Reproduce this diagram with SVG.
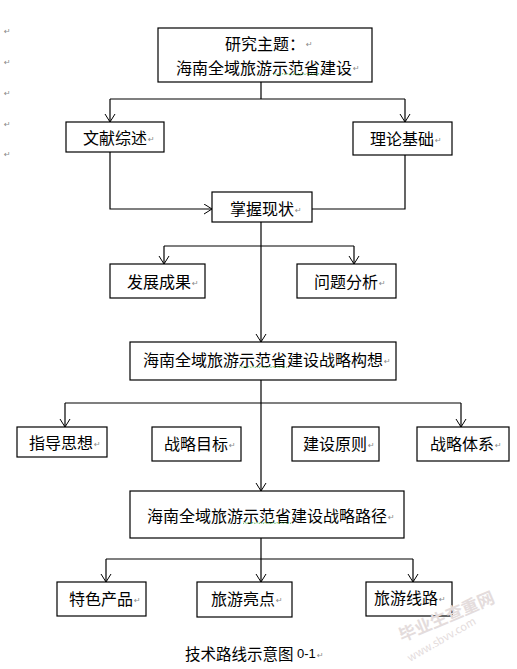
<svg xmlns="http://www.w3.org/2000/svg" width="517" height="669" viewBox="0 0 517 669">
<defs>
<marker id="arr" markerUnits="userSpaceOnUse" markerWidth="10" markerHeight="12" refX="8.5" refY="5.5" orient="auto">
<path d="M0.5,0.5 L8.5,5.5 L0.5,10.5" fill="none" stroke="#000" stroke-width="1"/>
</marker>
<style>
.box{fill:#fff;stroke:#000;stroke-width:1.2}
.t{font-family:"Noto Sans CJK SC","Noto Sans CJK JP",sans-serif;font-size:16px;fill:#000;dominant-baseline:central}
.pm{font-family:"DejaVu Sans",sans-serif;font-size:8px;fill:#888;dominant-baseline:central}
.ln{fill:none;stroke:#000;stroke-width:1.2}
.wv{fill:none;stroke:#3a3;stroke-width:0.8;stroke-dasharray:1.5 1}
.wm{font-family:"Noto Sans CJK SC",sans-serif;fill:#e4dcdc}
</style>
</defs>
<rect width="517" height="669" fill="#fff"/>
<g id="margin-marks">
<text class="pm" x="4" y="31">↵</text>
<text class="pm" x="4" y="62">↵</text>
<text class="pm" x="4" y="93">↵</text>
<text class="pm" x="4" y="124">↵</text>
<text class="pm" x="4" y="154">↵</text>
</g>
<g id="connectors">
<path class="ln" d="M261,82 V99 M110,99 H405"/>
<path class="ln" d="M110,99 V122" marker-end="url(#arr)"/>
<path class="ln" d="M405,99 V122" marker-end="url(#arr)"/>
<path class="ln" d="M110,152 V209 H212" marker-end="url(#arr)"/>
<path class="ln" d="M405,155 V209 H312"/>
<path class="ln" d="M261,222 V342" marker-end="url(#arr)"/>
<path class="ln" d="M164,246 H354"/>
<path class="ln" d="M164,246 V264" marker-end="url(#arr)"/>
<path class="ln" d="M354,246 V264" marker-end="url(#arr)"/>
<path class="ln" d="M261,380 V491" marker-end="url(#arr)"/>
<path class="ln" d="M65,403 H461"/>
<path class="ln" d="M65,403 V427" marker-end="url(#arr)"/>
<path class="ln" d="M461,403 V427" marker-end="url(#arr)"/>
<path class="ln" d="M261,538 V582" marker-end="url(#arr)"/>
<path class="ln" d="M106,559 H413"/>
<path class="ln" d="M106,559 V582" marker-end="url(#arr)"/>
<path class="ln" d="M413,559 V582" marker-end="url(#arr)"/>
</g>
<g id="n-topic">
<rect class="box" x="158" y="28" width="214" height="54"/>
<text class="t" x="225" y="42.5">研究主题：</text>
<text class="t" x="176" y="66.5">海南全域旅游示范省建设</text>
<text class="pm" x="306" y="44">↵</text>
<text class="pm" x="353" y="68">↵</text>
<path class="wv" d="M273,74.5 l2,-1 l2,1 l2,-1 l2,1 l2,-1 l2,1 l2,-1 l2,1 l2,-1 l2,1 l2,-1 l2,1 l2,-1 l2,1 l2,-1 l2,1 l2,-1 l2,1 l2,-1 l2,1 l2,-1 l2,1 l2,-1 l2,1"/>
</g>
<g id="n-literature">
<rect class="box" x="66" y="122" width="98" height="30"/>
<text class="t" x="83" y="137">文献综述</text><text class="pm" x="148" y="139">↵</text>
</g>
<g id="n-theory">
<rect class="box" x="353" y="122" width="99" height="33"/>
<text class="t" x="370" y="138">理论基础</text><text class="pm" x="435" y="140">↵</text>
</g>
<g id="n-status">
<rect class="box" x="212" y="192" width="100" height="30"/>
<text class="t" x="230" y="208">掌握现状</text><text class="pm" x="295" y="210">↵</text>
</g>
<g id="n-achieve">
<rect class="box" x="110" y="264" width="95" height="34"/>
<text class="t" x="127" y="281">发展成果</text><text class="pm" x="192" y="283">↵</text>
</g>
<g id="n-problem">
<rect class="box" x="297" y="264" width="99" height="34"/>
<text class="t" x="314" y="281">问题分析</text><text class="pm" x="379" y="283">↵</text>
</g>
<g id="n-concept">
<rect class="box" x="130" y="342" width="266" height="38"/>
<text class="t" x="143" y="359">海南全域旅游示范省建设战略构想</text><text class="pm" x="384" y="361">↵</text>
<path class="wv" d="M239,367.5 l2,-1 l2,1 l2,-1 l2,1 l2,-1 l2,1 l2,-1 l2,1 l2,-1 l2,1 l2,-1 l2,1 l2,-1 l2,1 l2,-1 l2,1 l2,-1 l2,1 l2,-1 l2,1 l2,-1 l2,1 l2,-1 l2,1"/>
</g>
<g id="n-guide">
<rect class="box" x="17" y="427" width="90" height="30"/>
<text class="t" x="29" y="442">指导思想</text><text class="pm" x="94" y="444">↵</text>
</g>
<g id="n-goal">
<rect class="box" x="152" y="427" width="89" height="34"/>
<text class="t" x="164" y="443">战略目标</text><text class="pm" x="229" y="445">↵</text>
</g>
<g id="n-principle">
<rect class="box" x="292" y="427" width="87" height="34"/>
<text class="t" x="303" y="443">建设原则</text><text class="pm" x="368" y="445">↵</text>
</g>
<g id="n-system">
<rect class="box" x="417" y="427" width="92" height="34"/>
<text class="t" x="430" y="443">战略体系</text><text class="pm" x="495" y="445">↵</text>
</g>
<g id="n-path">
<rect class="box" x="130" y="491" width="274" height="47"/>
<text class="t" x="147" y="515">海南全域旅游示范省建设战略路径</text><text class="pm" x="388" y="517">↵</text>
<path class="wv" d="M243,523.5 l2,-1 l2,1 l2,-1 l2,1 l2,-1 l2,1 l2,-1 l2,1 l2,-1 l2,1 l2,-1 l2,1 l2,-1 l2,1 l2,-1 l2,1 l2,-1 l2,1 l2,-1 l2,1 l2,-1 l2,1 l2,-1 l2,1"/>
</g>
<g id="n-product">
<rect class="box" x="57" y="582" width="89" height="34"/>
<text class="t" x="69" y="598">特色产品</text><text class="pm" x="134" y="600">↵</text>
</g>
<g id="n-highlight">
<rect class="box" x="197" y="582" width="95" height="35"/>
<text class="t" x="211" y="598">旅游亮点</text><text class="pm" x="276" y="600">↵</text>
</g>
<g id="n-route">
<rect class="box" x="366" y="582" width="86" height="34"/>
<text class="t" x="374" y="597">旅游线路</text><text class="pm" x="439" y="599">↵</text>
</g>
<g id="caption">
<text class="t" x="185" y="653" style="font-size:15.5px">技术路线示意图</text>
<text x="297" y="653" font-family="Liberation Sans" font-size="13" dominant-baseline="central">0-1</text>
<text class="pm" x="317" y="655">↵</text>
</g>
<g id="watermark">
<text class="wm" x="402" y="642" font-size="17" font-weight="bold" transform="rotate(-23 402 642)">毕业生查重网</text>
<text class="wm" x="410" y="662" font-size="11" font-family="Liberation Sans" transform="rotate(-30 410 662)">www.sbvv.com</text>
</g>
</svg>
